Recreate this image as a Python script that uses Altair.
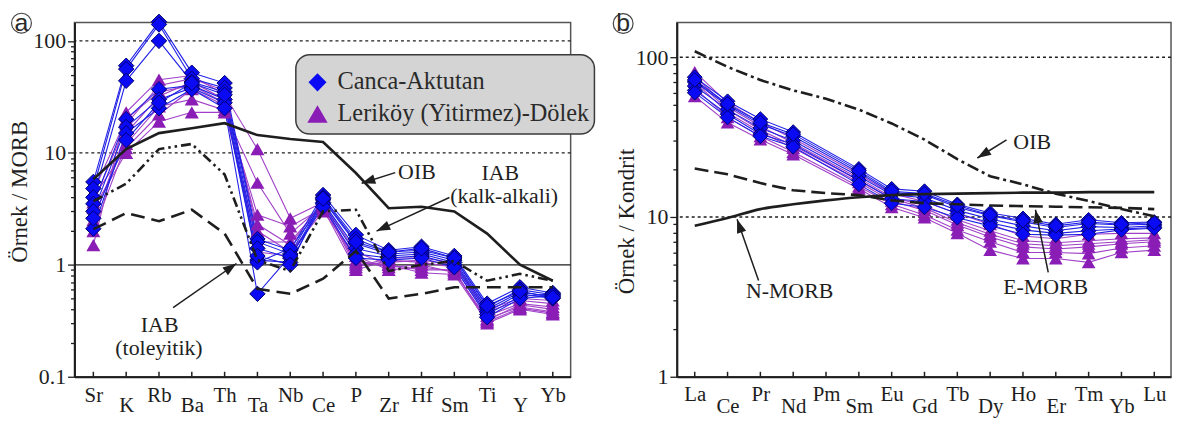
import math
import altair as alt
import pandas as pd

SERIF = "'Liberation Serif', 'Times New Roman', Times, serif"
SANS = "'Liberation Sans', Arial, sans-serif"
INK = "#1e1e1e"
BLUE = "#0a0af5"
BLUE_LINE = "#2020e6"
BLUE_EDGE = "#00006e"
PURPLE = "#8a1db5"
PURPLE_LINE = "#a040c8"

# ---------------- panel (a): MORB-normalised spider diagram ----------------
spider_elements = ["Sr", "K", "Rb", "Ba", "Th", "Ta", "Nb", "Ce", "P", "Zr", "Hf", "Sm", "Ti", "Y", "Yb"]

canca_spider = [
    [5.5, 60, 148, 52, 42, 1.7, 1.35, 4.2, 1.85, 1.35, 1.45, 1.2, 0.45, 0.63, 0.56],
    [4.8, 56, 140, 46, 38, 1.6, 1.25, 4.0, 1.7, 1.3, 1.35, 1.15, 0.42, 0.60, 0.54],
    [4.0, 44, 100, 43, 35, 1.4, 1.15, 3.8, 1.55, 1.25, 1.3, 1.1, 0.40, 0.57, 0.52],
    [3.5, 20, 37, 40, 30, 1.1, 1.05, 3.6, 1.4, 1.2, 1.25, 1.05, 0.38, 0.55, 0.50],
    [3.0, 17, 30, 38, 28, 1.05, 1.4, 3.5, 1.25, 1.15, 1.2, 1.0, 0.36, 0.52, 0.55],
    [2.1, 15, 25, 37, 25, 0.55, 1.2, 3.3, 1.15, 1.1, 1.15, 0.95, 0.34, 0.50, 0.53],
    [2.6, 13, 28, 42, 33, 1.2, 1.0, 3.9, 1.6, 1.3, 1.4, 1.15, 0.43, 0.58, 0.51],
]
lerikoy_spider = [
    [1.5, 23, 45, 49, 33, 10.8, 2.6, 3.6, 1.3, 1.0, 0.9, 0.9, 0.30, 0.40, 0.36],
    [3.2, 10, 19, 23, 23, 5.4, 1.9, 3.4, 1.1, 0.95, 1.0, 0.85, 0.33, 0.42, 0.38],
    [4.0, 11, 22, 37, 26.5, 2.8, 2.2, 3.2, 0.9, 1.1, 1.05, 0.95, 0.35, 0.45, 0.42],
    [2.5, 15, 32, 43, 30, 2.3, 1.5, 3.7, 1.0, 1.05, 1.1, 1.0, 0.38, 0.48, 0.45],
    [3.6, 18, 40, 46, 36, 2.0, 1.3, 3.0, 1.2, 0.9, 0.95, 0.88, 0.32, 0.44, 0.40],
    [2.0, 12, 26, 30, 24, 1.6, 1.6, 3.5, 0.95, 1.15, 1.15, 1.05, 0.40, 0.50, 0.48],
    [4.5, 20, 35, 40, 28, 1.3, 1.2, 3.3, 1.05, 1.0, 0.85, 0.82, 0.31, 0.41, 0.37],
]
oib_spider = [5.8, 10.8, 15, 16.6, 18.4, 14.4, 13.3, 12.5, 6.6, 3.2, 3.3, 3.0, 1.9, 1.0, 0.72]
iab_calc_spider = [3.7, 5.3, 10.8, 12, 6.4, 1.1, 0.88, 3.0, 3.1, 0.88, 1.0, 1.08, 0.72, 0.83, 0.72]
iab_thol_spider = [2.08, 2.9, 2.45, 3.1, 1.9, 0.61, 0.55, 0.75, 1.33, 0.5, 0.55, 0.63, 0.63, 0.63, 0.63]

# ---------------- panel (b): chondrite-normalised REE ----------------
ree_elements = ["La", "Ce", "Pr", "Nd", "Pm", "Sm", "Eu", "Gd", "Tb", "Dy", "Ho", "Er", "Tm", "Yb", "Lu"]

canca_ree = [
    [75, 53, 41, 34, None, 20, 15, 14.5, 12, 10.6, 9.8, 9.0, 9.6, 9.2, 9.3],
    [70, 50, 38, 32, None, 19, 14.2, 13.8, 11.5, 10.2, 9.3, 8.6, 9.1, 8.9, 9.0],
    [66, 47, 36, 30, None, 18, 13.8, 13.2, 11, 9.7, 8.8, 8.2, 8.7, 8.6, 8.8],
    [62, 44, 33, 28.5, None, 17, 13, 12.5, 10.5, 9.2, 8.3, 7.9, 8.2, 8.4, 8.6],
    [60, 42, 32, 27.5, None, 16, 12.2, 11.5, 9.9, 8.8, 7.8, 7.7, 7.8, 8.3, 8.5],
    [72, 51, 39, 33, None, 19.5, 14.5, 14, 11.8, 10.3, 9.5, 8.8, 9.3, 9.0, 9.2],
]
lerikoy_ree = [
    [81, 52, 39, 31, None, 18.5, 14, 12.5, 10.5, 9.0, 7.6, 7.3, 7.8, 7.9, 7.9],
    [76, 49, 37, 29, None, 17.5, 13.3, 11.8, 9.6, 8.2, 7.1, 6.9, 7.1, 7.3, 7.4],
    [70, 45, 34, 27, None, 16.5, 12.6, 11.0, 8.9, 7.5, 6.5, 6.3, 6.5, 6.8, 7.0],
    [64, 42, 32, 25.5, None, 15.5, 12.0, 10.3, 8.3, 7.0, 6.0, 6.0, 5.9, 6.4, 6.6],
    [57, 39, 30.5, 24.6, None, 15, 11.5, 9.9, 7.9, 6.2, 5.5, 5.5, 5.2, 6.0, 6.2],
    [73, 47, 35, 28, None, 17, 13.0, 11.4, 9.2, 7.8, 6.8, 6.6, 6.8, 7.0, 7.2],
]
oib_ree = [109, 87, 72, 62, 55, 47, 38.5, 30.5, 23, 18, 16, 14, 12.6, 11.2, 10.1]
emorb_ree = [20.1, 18.5, 16.3, 14.7, 14.1, 13.7, 12.7, 12.2, 12.0, 11.8, 11.7, 11.6, 11.5, 11.4, 11.2]
nmorb_ree = [8.8, 9.85, 11.2, 12.0, 12.7, 13.3, 13.7, 13.9, 14.0, 14.1, 14.2, 14.2, 14.3, 14.3, 14.3]

group_names = ["Canca-Aktutan", "Leriköy (Yitirmez)-Dölek"]

# annotation texts: (text, x-index, value)
notes_a = [("OIB", 9.86, 6.74), ("IAB", 12.40, 6.6), ("(kalk-alkali)", 12.52, 4.08),
           ("IAB", 2.02, 0.288), ("(toleyitik)", 2.0, 0.179)]
arrows_a = [(9.20, 6.66, 8.175, 5.34), (10.85, 3.99, 8.63, 2.0), (2.43, 0.414, 4.36, 1.027)]
notes_b = [("OIB", 10.28, 29.6), ("N-MORB", 2.89, 3.44), ("E-MORB", 10.69, 3.64)]
arrows_b = [(9.50, 30.4, 8.61, 23.4), (1.945, 4.0, 1.29, 9.67), (10.77, 4.5, 10.38, 11.1)]

H = 357
W_A, W_B = 500, 498
XDOM_A = [-0.575, 14.545]
XDOM_B = [-0.545, 14.51]
YDOM_A = [0.1, 146]
YDOM_B = [1, 165]


def long_df(samples):
    rows = []
    for s, vals in enumerate(samples):
        for i, v in enumerate(vals):
            if v is not None:
                rows.append({"x": i, "y": v, "s": s})
    return pd.DataFrame(rows)


def ref_df(vals):
    return pd.DataFrame({"x": list(range(len(vals))), "y": vals})


def log_ticks(lo_exp, hi_exp, top):
    vals = []
    for e in range(lo_exp, hi_exp + 1):
        for k in range(1, 10):
            v = round(k * 10 ** e, 6)
            if v <= top:
                vals.append(v)
    return vals


def make_panel(W, xdom, ydom, names, pad_hi, pad_lo, yticks, majors, ytitle, title_x, title_y,
               canca, lerikoy, refs, notes, arrows, letter, letter_xy, dsize, tsize,
               dotted, solid, legend=None):
    arr = "[" + ",".join("'%s'" % n for n in names) + "]"
    xaxis = alt.Axis(values=list(range(len(names))), labelExpr=arr + "[datum.value]",
                     ticks=False, grid=False, title=None, domainColor=INK, domainWidth=2,
                     labelFont=SERIF, labelFontSize=21, labelColor=INK, labelFlush=False,
                     labelOverlap=False,
                     labelPadding={"condition": {"test": "datum.value % 2 == 1", "value": pad_lo},
                                   "value": pad_hi})
    test = " || ".join("datum.value == %s" % m for m in majors)
    yaxis = alt.Axis(values=yticks, labelExpr="(%s) ? toString(datum.value) : ''" % test,
                     grid=False, title=ytitle, titleX=title_x, titleY=title_y,
                     titleAlign="center", titleBaseline="middle", titleFont=SERIF,
                     titleFontSize=23, titleFontWeight="normal", titleColor=INK,
                     labelFont=SERIF, labelFontSize=22, labelColor=INK, labelPadding=2,
                     labelOverlap=False, labelFlush=False,
                     domainColor=INK, domainWidth=2, tickColor=INK, tickWidth=1.3,
                     tickSize={"condition": {"test": test, "value": 7}, "value": 4})
    xs = alt.Scale(domain=xdom, nice=False, zero=False)
    ys = alt.Scale(type="log", domain=ydom, nice=False)
    X = lambda f="x": alt.X(f + ":Q", scale=xs, axis=xaxis)
    Y = lambda f="y": alt.Y(f + ":Q", scale=ys, axis=yaxis)

    layers = []
    layers.append(alt.Chart(pd.DataFrame({"y": dotted})).mark_rule(
        color=INK, strokeWidth=1.4, strokeDash=[3, 3]).encode(y=Y()))
    if solid:
        layers.append(alt.Chart(pd.DataFrame({"y": solid})).mark_rule(
            color=INK, strokeWidth=1.3).encode(y=Y()))

    dl = long_df(lerikoy)
    dc = long_df(canca)
    layers.append(alt.Chart(dl).mark_line(color=PURPLE_LINE, strokeWidth=1.1).encode(
        x=X(), y=Y(), detail="s:N"))
    layers.append(alt.Chart(dc).mark_line(color=BLUE_LINE, strokeWidth=1.1).encode(
        x=X(), y=Y(), detail="s:N"))
    layers.append(alt.Chart(dl).mark_point(shape="triangle-up", filled=True, fill=PURPLE,
                                           size=tsize, opacity=1).encode(x=X(), y=Y()))
    layers.append(alt.Chart(dc).mark_point(shape="diamond", filled=True, fill=BLUE,
                                           stroke=BLUE_EDGE, strokeWidth=1, size=dsize,
                                           opacity=1).encode(x=X(), y=Y()))

    for vals, dash, interp in refs:
        kw = dict(color=INK, strokeWidth=2.6)
        if dash:
            kw["strokeDash"] = dash
        if interp:
            kw["interpolate"] = interp
        layers.append(alt.Chart(ref_df(vals)).mark_line(**kw).encode(x=X(), y=Y()))

    # inward ticks on the category axis
    layers.append(alt.Chart(pd.DataFrame({"x": list(range(len(names)))})).mark_rule(
        color=INK, strokeWidth=1.5).encode(x=X(), y=alt.value(H), y2=alt.value(H - 5)))

    # annotations
    tdf = pd.DataFrame(notes, columns=["t", "x", "y"])
    layers.append(alt.Chart(tdf).mark_text(font=SERIF, fontSize=22, color=INK, align="center",
                                           baseline="middle").encode(x=X(), y=Y(), text="t:N"))
    kx = W / (xdom[1] - xdom[0])
    ky = H / (math.log10(ydom[1]) - math.log10(ydom[0]))
    lrows, hrows = [], []
    for i, (x0, y0, x1, y1) in enumerate(arrows):
        lrows += [{"id": i, "o": 0, "x": x0, "y": y0}, {"id": i, "o": 1, "x": x1, "y": y1}]
        dx = (x1 - x0) * kx
        dy = -(math.log10(y1) - math.log10(y0)) * ky
        ang = math.degrees(math.atan2(dx, -dy)) % 360
        hrows.append({"x": x1, "y": y1, "a": ang})
    layers.append(alt.Chart(pd.DataFrame(lrows)).mark_line(color=INK, strokeWidth=1.5).encode(
        x=X(), y=Y(), detail="id:N", order="o:Q"))
    layers.append(alt.Chart(pd.DataFrame(hrows)).mark_point(
        shape="M0,0L0.7,2L-0.7,2Z", filled=True, fill=INK, size=190, opacity=1,
        strokeWidth=0).encode(x=X(), y=Y(), angle=alt.Angle("a:Q", scale=None)))

    if legend is not None:
        (bx0, by0, bx1, by1), sym_x, txt_x, rows_y = legend
        layers.append(alt.Chart(pd.DataFrame({"x": [bx0], "x2": [bx1], "y": [by0], "y2": [by1]}))
                      .mark_rect(fill="#d4d4d4", stroke="#3a3a3a", strokeWidth=1.5, cornerRadius=14)
                      .encode(x=X(), x2="x2:Q", y=Y(), y2="y2:Q"))
        layers.append(alt.Chart(pd.DataFrame({"x": [sym_x], "y": [rows_y[0]]})).mark_point(
            shape="diamond", filled=True, fill=BLUE, size=330, opacity=1).encode(x=X(), y=Y()))
        layers.append(alt.Chart(pd.DataFrame({"x": [sym_x], "y": [rows_y[1]]})).mark_point(
            shape="triangle-up", filled=True, fill=PURPLE, size=420, opacity=1).encode(x=X(), y=Y()))
        ldf = pd.DataFrame({"x": [txt_x, txt_x], "y": rows_y, "t": group_names})
        layers.append(alt.Chart(ldf).mark_text(font=SERIF, fontSize=24.5, color="#2a2a2a",
                                               align="left", baseline="middle")
                      .encode(x=X(), y=Y(), text="t:N"))

    cdf = pd.DataFrame({"x": [letter_xy[0]], "y": [letter_xy[1]], "t": [letter]})
    layers.append(alt.Chart(cdf).mark_point(shape="circle", filled=False, stroke="#444444",
                                            strokeWidth=1.2, size=400, opacity=1)
                  .encode(x=X(), y=Y()))
    layers.append(alt.Chart(cdf).mark_text(font=SANS, fontSize=25, color="#2a2a2a",
                                           align="center", baseline="middle")
                  .encode(x=X(), y=Y(), text="t:N"))

    return alt.layer(*layers).properties(width=W, height=H)


ticks_a = log_ticks(-1, 2, 146)
ticks_b = log_ticks(0, 2, 165)

panel_a = make_panel(
    W_A, XDOM_A, YDOM_A, spider_elements, 8, 18, ticks_a, [0.1, 1, 10, 100],
    "Örnek / MORB", -55, 170, canca_spider, lerikoy_spider,
    [(oib_spider, None, None), (iab_calc_spider, [10, 4, 2.5, 4, 2.5, 4], None),
     (iab_thol_spider, [14, 7], None)],
    notes_a, arrows_a, "a", (-2.19, 144), 240, 200, [10, 100], [1],
    legend=((6.17, 75.2, 15.27, 14.7), 6.83, 7.44, [42.6, 22.2]))

panel_b = make_panel(
    W_B, XDOM_B, YDOM_B, ree_elements, 7, 19, ticks_b, [1, 10, 100],
    "Örnek / Kondrit", -51, 200, canca_ree, lerikoy_ree,
    [(oib_ree, [12, 4, 3, 4], None), (emorb_ree, [14, 6], None), (nmorb_ree, None, "monotone")],
    notes_b, arrows_b, "b", (-2.18, 162.5), 220, 190, [10, 100], [])

chart = alt.hconcat(panel_a, panel_b, spacing=107, bounds="flush").properties(
    padding=0).configure_view(stroke="#555555", strokeWidth=1.5)

chart.save("out.html", embed_options={"renderer": "svg", "actions": False})
